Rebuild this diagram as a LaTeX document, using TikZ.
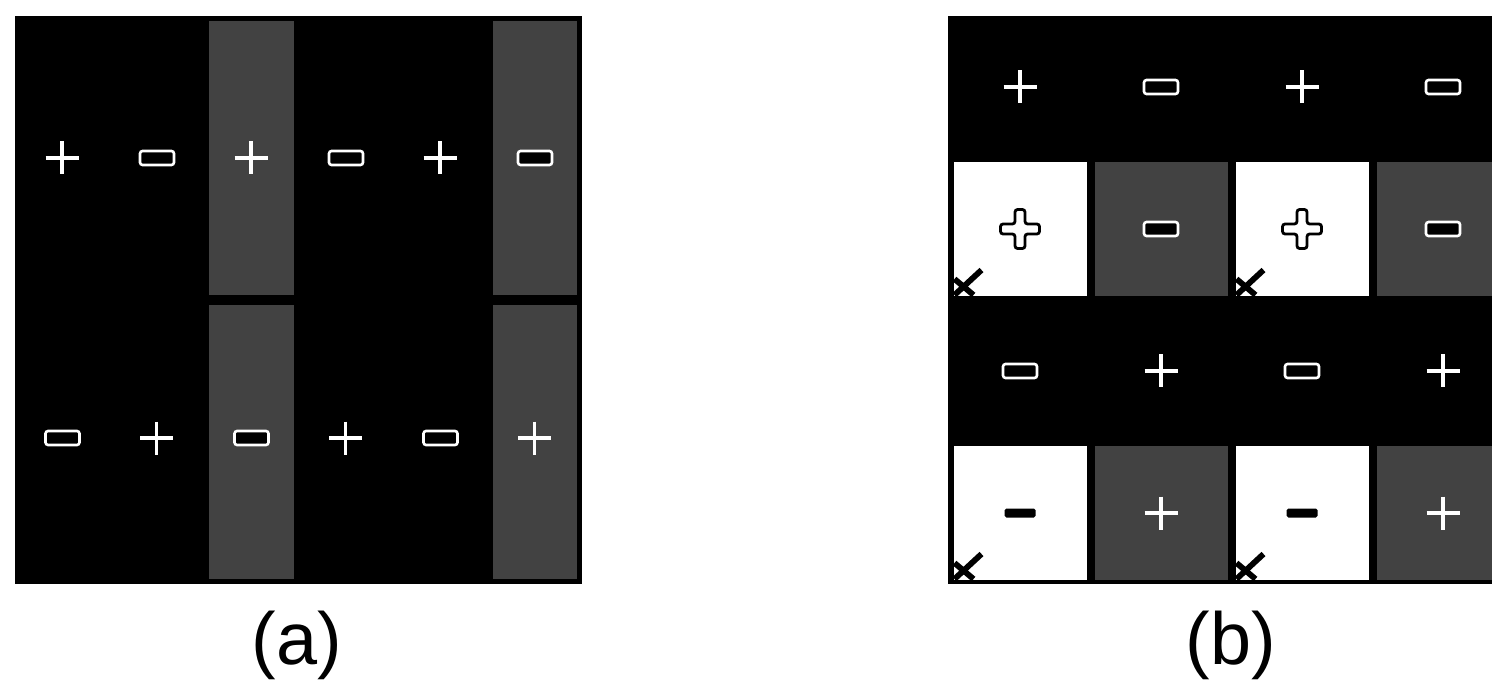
\documentclass[tikz,border=0pt]{standalone}
\usepackage{fontspec}
\setmainfont{Liberation Sans}
\usetikzlibrary{positioning}

\tikzset{
  textured/.style={fill=black!74},
  paper/.style={fill=white},
  plusw/.pic={\draw[white,line width=2pt] (-16.5,0) -- (16.5,0) (0,-16.5) -- (0,16.5);},
  minusw/.pic={\draw[white,line width=1.5pt,fill=black,rounded corners=1.5pt] (-17,-7) rectangle (17,7);},
  plusout/.pic={\draw[black,line width=1.6pt,fill=white,rounded corners=1.5pt]
    (-19.5,-5) -- (-5,-5) -- (-5,-19.5) -- (5,-19.5) -- (5,-5) -- (19.5,-5) -- (19.5,5)
    -- (5,5) -- (5,19.5) -- (-5,19.5) -- (-5,5) -- (-19.5,5) -- cycle;},
  minusb/.pic={\fill[black,rounded corners=1pt] (-15.5,-4.5) rectangle (15.5,4.5);},
  xmark/.pic={\draw[black,line width=3.3pt] (1,-1) -- (28,-26) (1,-17) -- (20,-1);}
}

\begin{document}
\begin{tikzpicture}[x=0.02cm,y=-0.02cm,font=\fontsize{42}{42}\selectfont]
  \useasboundingbox (0,0) rectangle (1492,682);
  \clip (0,0) rectangle (1492,682);

  % panel (a): six columns, two rows
  \fill[black] (15,16) rectangle (582,584);
  \foreach \c in {2,5} {
    \foreach \r in {0,1} {
      \fill[textured] (15+94.5*\c+5,16+284*\r+5) rectangle (15+94.5*\c+89.5,16+284*\r+279);
    }
  }
  \foreach \x in {62,251,440} {
    \pic at (\x,158) {plusw};
    \pic at (\x+94.5,438) {plusw};
  }
  \foreach \x in {157,346,535} {
    \pic at (\x,158) {minusw};
    \pic at (\x-94.5,438) {minusw};
  }
  \node[anchor=base] (lbla) at (297,664) {(a)};

  % panel (b): four by four cells
  \fill[black] (948,16) rectangle (1513.5,584);
  \foreach \c in {0,2} {
    \foreach \r in {1,3} {
      \fill[paper] (949.5+141*\c+4,16+142*\r+4) rectangle (949.5+141*\c+137,16+142*\r+138);
      \fill[textured] (1090.5+141*\c+4,16+142*\r+4) rectangle (1090.5+141*\c+137,16+142*\r+138);
      \pic at (949.5+141*\c+4,16+142*\r+138) {xmark};
    }
  }
  \foreach \x in {1020,1302} {
    \pic at (\x,87) {plusw};
    \pic at (\x,229) {plusout};
    \pic at (\x,371) {minusw};
    \pic at (\x,513) {minusb};
  }
  \foreach \x in {1161,1443} {
    \pic at (\x,87) {minusw};
    \pic at (\x,229) {minusw};
    \pic at (\x,371) {plusw};
    \pic at (\x,513) {plusw};
  }
  \node[anchor=base] (lblb) at (1231,664) {(b)};
\end{tikzpicture}
\end{document}
